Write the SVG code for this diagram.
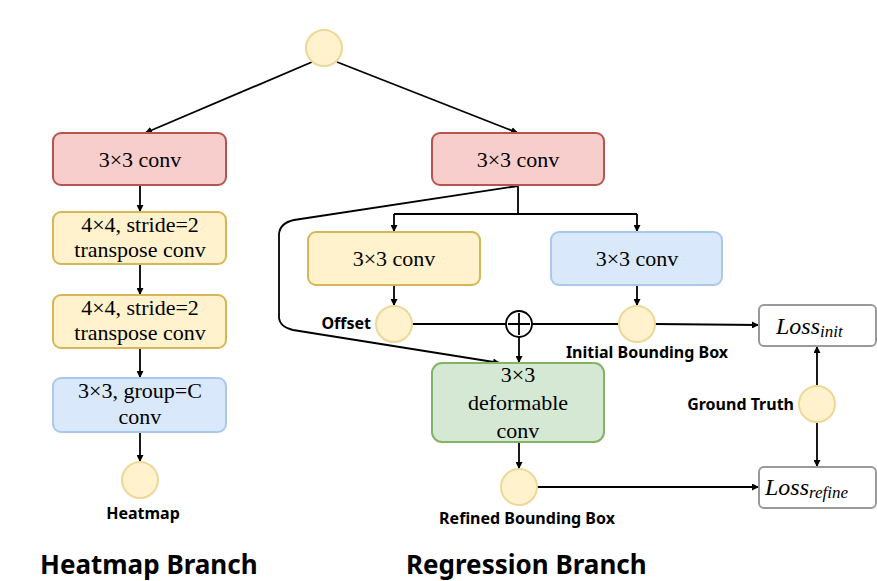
<svg xmlns="http://www.w3.org/2000/svg" width="877" height="581" viewBox="0 0 877 581">
<defs>
<marker id="ah" viewBox="0 0 10 10" refX="10" refY="5" markerWidth="7" markerHeight="7" orient="auto" markerUnits="userSpaceOnUse"><path d="M0,0 L10,5 L0,10 z" fill="#000"/></marker>
<style>
.red{fill:#f8cecc;stroke:#b85450;stroke-width:2}
.yel{fill:#fff2cc;stroke:#d6b656;stroke-width:2}
.blu{fill:#dae8fc;stroke:#a9c8ec;stroke-width:2}
.grn{fill:#d5e8d4;stroke:#82b366;stroke-width:2}
.loss{fill:#fff;stroke:#9a9a9a;stroke-width:2}
.dot{fill:#fff2cc;stroke:#ecd898;stroke-width:2}
.bt{font-family:"Liberation Serif",serif;font-size:22px;fill:#000;text-anchor:middle}
.lb{font-family:"Noto Sans","Open Sans",sans-serif;font-weight:bold;font-size:16px;fill:#000}
.tt{font-family:"Noto Sans","Open Sans",sans-serif;font-weight:bold;font-size:26px;fill:#000}
.ls{font-family:"Liberation Serif",serif;font-style:italic;font-size:24px;fill:#000}
.c{fill:none;stroke:#000;stroke-width:1.8}
</style>
</defs>
<rect width="877" height="581" fill="#fff"/>
<g id="connectors">
<path class="c" d="M312,62 L145,133" marker-end="url(#ah)"/>
<path class="c" d="M337,62 L518,133" marker-end="url(#ah)"/>
<path class="c" d="M140,185 L140,212" marker-end="url(#ah)"/>
<path class="c" d="M140,264 L140,295" marker-end="url(#ah)"/>
<path class="c" d="M140,348 L140,378" marker-end="url(#ah)"/>
<path class="c" d="M140,432 L140,462" marker-end="url(#ah)"/>
<path class="c" d="M518,185 L518,214"/>
<path class="c" d="M394,214 L637,214"/>
<path class="c" d="M394,214 L394,232" marker-end="url(#ah)"/>
<path class="c" d="M637,214 L637,232" marker-end="url(#ah)"/>
<path class="c" d="M394,285 L394,306" marker-end="url(#ah)"/>
<path class="c" d="M637,285 L637,306" marker-end="url(#ah)"/>
<path class="c" d="M412,324 L506,324"/>
<path class="c" d="M532,324 L619,324"/>
<path class="c" d="M655,324 L759,325" marker-end="url(#ah)"/>
<path class="c" d="M519,337 L519,363" marker-end="url(#ah)"/>
<path class="c" d="M518,186 L294,220 Q280,223 279,234 L279,318 Q280,327 293,330 L500,363" marker-end="url(#ah)"/>
<path class="c" d="M519,442 L519,469" marker-end="url(#ah)"/>
<path class="c" d="M537,487 L759,487" marker-end="url(#ah)"/>
<path class="c" d="M817,386 L817,346" marker-end="url(#ah)"/>
<path class="c" d="M817,422 L817,467" marker-end="url(#ah)"/>
</g>
<g id="input"><circle class="dot" cx="324" cy="48" r="18"/></g>
<g id="h_conv"><rect class="red" x="53" y="133" width="173" height="52" rx="8"/><text class="bt" x="140" y="167">3×3 conv</text></g>
<g id="h_tconv1"><rect class="yel" x="53" y="212" width="173" height="52" rx="8"/><text class="bt" x="140" y="232">4×4, stride=2</text><text class="bt" x="140" y="257">transpose conv</text></g>
<g id="h_tconv2"><rect class="yel" x="53" y="295" width="173" height="53" rx="8"/><text class="bt" x="140" y="315">4×4, stride=2</text><text class="bt" x="140" y="340">transpose conv</text></g>
<g id="h_gconv"><rect class="blu" x="53" y="378" width="173" height="54" rx="8"/><text class="bt" x="140" y="398">3×3, group=C</text><text class="bt" x="140" y="424">conv</text></g>
<g id="heatmap"><circle class="dot" cx="140" cy="480" r="18"/><text class="lb" x="143" y="519" text-anchor="middle">Heatmap</text></g>
<g id="r_conv"><rect class="red" x="432" y="133" width="172" height="52" rx="8"/><text class="bt" x="518" y="167">3×3 conv</text></g>
<g id="r_offconv"><rect class="yel" x="308" y="232" width="172" height="53" rx="8"/><text class="bt" x="394" y="266">3×3 conv</text></g>
<g id="r_bboxconv"><rect class="blu" x="551" y="232" width="171" height="53" rx="8"/><text class="bt" x="637" y="266">3×3 conv</text></g>
<g id="offset"><circle class="dot" cx="394" cy="324" r="18"/><text class="lb" x="371" y="329" text-anchor="end">Offset</text></g>
<g id="plus"><circle cx="519" cy="324" r="13" fill="#fff" stroke="#000" stroke-width="1.8"/><path d="M508,324 L530,324 M519,313 L519,335" stroke="#000" stroke-width="1.8"/></g>
<g id="init_bbox"><circle class="dot" cx="637" cy="324" r="18"/><text class="lb" x="647" y="358" text-anchor="middle">Initial Bounding Box</text></g>
<g id="deform"><rect class="grn" x="432" y="363" width="172" height="79" rx="10"/><text class="bt" x="518" y="382">3×3</text><text class="bt" x="518" y="410">deformable</text><text class="bt" x="518" y="438">conv</text></g>
<g id="refined"><circle class="dot" cx="519" cy="487" r="18"/><text class="lb" x="527" y="524" text-anchor="middle">Refined Bounding Box</text></g>
<g id="gt"><circle class="dot" cx="817" cy="404" r="18"/><text class="lb" x="794" y="410" text-anchor="end">Ground Truth</text></g>
<g id="loss_init"><rect class="loss" x="759" y="305" width="117" height="41" rx="5"/><text class="ls" x="776" y="334">Loss<tspan font-size="17" dy="3">init</tspan></text></g>
<g id="loss_refine"><rect class="loss" x="759" y="467" width="117" height="41" rx="5"/><text class="ls" x="765" y="495">Loss<tspan font-size="17" dy="3">refine</tspan></text></g>
<g id="titles"><text class="tt" x="40" y="574">Heatmap Branch</text><text class="tt" x="406" y="574">Regression Branch</text></g>
</svg>
